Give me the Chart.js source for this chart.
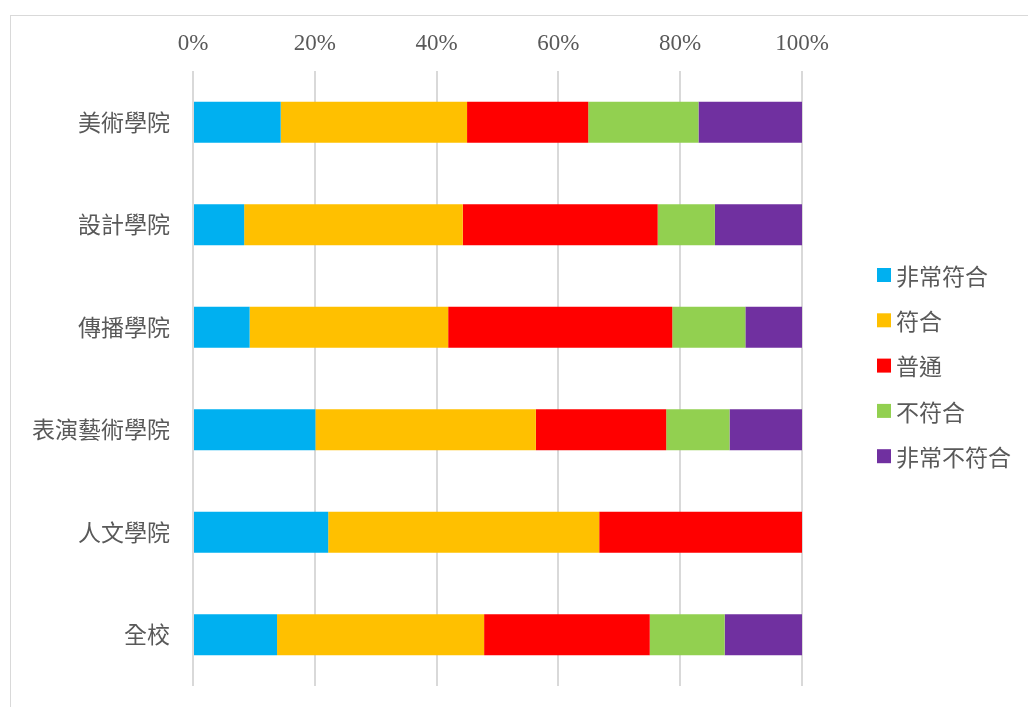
<!DOCTYPE html>
<html>
<head>
<meta charset="utf-8">
<script src="https://cdn.jsdelivr.net/npm/chart.js@4"></script>
<style>
  body { margin: 0; background: #ffffff; overflow: hidden; }
  #marco { position: absolute; left: 10px; top: 15px; width: 1100px; height: 800px; border: 1px solid #d9d9d9; }
  #barChart { position: absolute; left: 0; top: 0; }
</style>
</head>
<body>
<div id="marco"></div>
<canvas id="barChart" width="1028" height="707"></canvas>
<script>
// Datos del gráfico
var colegios = ['美術學院', '設計學院', '傳播學院', '表演藝術學院', '人文學院', '全校'];
var nivelesRespuesta = ['非常符合', '符合', '普通', '不符合', '非常不符合'];
var muyDeAcuerdo = [14.4, 8.4, 9.3, 20.1, 22.2, 13.8];
var deAcuerdo = [30.6, 35.9, 32.6, 36.2, 44.5, 34.0];
var normal = [19.9, 32.0, 36.8, 21.4, 33.3, 27.2];
var enDesacuerdo = [18.1, 9.4, 12.0, 10.4, 0, 12.3];
var muyEnDesacuerdo = [17.0, 14.3, 9.3, 11.9, 0, 12.7];
var ticksX = [0, 20, 40, 60, 80, 100];

var colores = ['#00b0f0', '#ffc000', '#ff0000', '#92d050', '#7030a0'];
var series = [muyDeAcuerdo, deAcuerdo, normal, enDesacuerdo, muyEnDesacuerdo];

var fuenteCjk = '"Noto Sans CJK TC", "Noto Sans", sans-serif';
var grisTexto = '#595959';

// Leyenda propia a la derecha
var leyendaDerecha = {
    id: 'leyendaDerecha',
    afterDraw: function (chart) {
        var ctx = chart.ctx;
        ctx.save();
        ctx.font = '23px ' + fuenteCjk;
        ctx.textBaseline = 'middle';
        ctx.textAlign = 'left';
        chart.data.datasets.forEach(function (ds, i) {
            var y = 275 + i * 45.3;
            ctx.fillStyle = ds.backgroundColor;
            ctx.fillRect(877, y - 7, 14, 14);
            ctx.fillStyle = grisTexto;
            ctx.fillText(ds.label, 896, y + 1);
        });
        ctx.restore();
    }
};

var ctxB = document.getElementById('barChart').getContext('2d');

var myBarChart = new Chart(ctxB, {
    type: 'bar',
    data: {
        labels: colegios,
        datasets: nivelesRespuesta.map(function (nombre, i) {
            return {
                label: nombre,
                data: series[i],
                backgroundColor: colores[i],
                borderWidth: 0,
                barPercentage: 0.4,
                categoryPercentage: 1.0
            };
        })
    },
    options: {
        indexAxis: 'y',
        responsive: false,
        animation: false,
        layout: {
            padding: { top: 0, right: 226, bottom: 21, left: 0 }
        },
        scales: {
            x: {
                position: 'top',
                stacked: true,
                min: 0,
                max: 100,
                afterBuildTicks: function (scale) {
                    scale.ticks = ticksX.map(function (v) { return { value: v }; });
                },
                afterFit: function (scale) {
                    scale.height = 71;
                    scale.paddingLeft = 0;
                    scale.paddingRight = 0;
                },
                ticks: {
                    padding: 13,
                    color: grisTexto,
                    font: { family: '"Liberation Serif", serif', size: 23 },
                    callback: function (v) { return v + '%'; }
                },
                grid: {
                    color: '#d9d9d9',
                    lineWidth: 2,
                    drawTicks: false
                },
                border: { display: false }
            },
            y: {
                stacked: true,
                afterFit: function (scale) {
                    scale.width = 193;
                    scale.paddingTop = 0;
                    scale.paddingBottom = 0;
                },
                ticks: {
                    padding: 23,
                    color: grisTexto,
                    font: { family: fuenteCjk, size: 23 }
                },
                grid: { display: false, drawTicks: false },
                border: { display: false }
            }
        },
        plugins: {
            legend: { display: false },
            tooltip: { enabled: false }
        }
    },
    plugins: [leyendaDerecha]
});
</script>
</body>
</html>
